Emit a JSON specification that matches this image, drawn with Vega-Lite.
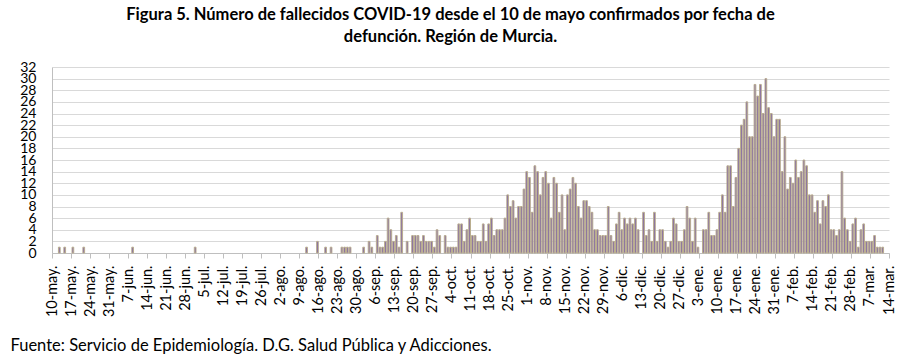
{
  "$schema": "https://vega.github.io/schema/vega-lite/v6.json",
  "width": 837,
  "height": 186,
  "autosize": {"type": "none"},
  "padding": {"left": 52, "top": 67, "right": 11, "bottom": 110},
  "background": "white",
  "title": {
    "text": ["Figura 5. Número de fallecidos COVID-19 desde el 10 de mayo confirmados por fecha de", "defunción. Región de Murcia."],
    "anchor": "middle",
    "frame": "group",
    "dx": -20,
    "offset": 15,
    "font": "Lato",
    "fontSize": 16.5,
    "fontWeight": "bold",
    "lineHeight": 22,
    "color": "#000000"
  },
  "config": {
    "view": {"stroke": null},
    "font": "Lato"
  },
  "data": {
    "values": [
      {"fecha": "2020-05-12", "n": 1}, {"fecha": "2020-05-14", "n": 1}, {"fecha": "2020-05-17", "n": 1}, {"fecha": "2020-05-21", "n": 1},
      {"fecha": "2020-06-08", "n": 1}, {"fecha": "2020-07-01", "n": 1},
      {"fecha": "2020-08-11", "n": 1}, {"fecha": "2020-08-15", "n": 2}, {"fecha": "2020-08-18", "n": 1}, {"fecha": "2020-08-20", "n": 1},
      {"fecha": "2020-08-24", "n": 1}, {"fecha": "2020-08-25", "n": 1}, {"fecha": "2020-08-26", "n": 1}, {"fecha": "2020-08-27", "n": 1},
      {"fecha": "2020-09-01", "n": 1}, {"fecha": "2020-09-03", "n": 2}, {"fecha": "2020-09-04", "n": 1}, {"fecha": "2020-09-06", "n": 3},
      {"fecha": "2020-09-07", "n": 1}, {"fecha": "2020-09-08", "n": 1}, {"fecha": "2020-09-09", "n": 2}, {"fecha": "2020-09-10", "n": 6},
      {"fecha": "2020-09-11", "n": 4}, {"fecha": "2020-09-12", "n": 2}, {"fecha": "2020-09-13", "n": 3}, {"fecha": "2020-09-14", "n": 1},
      {"fecha": "2020-09-15", "n": 7}, {"fecha": "2020-09-17", "n": 2}, {"fecha": "2020-09-19", "n": 3}, {"fecha": "2020-09-20", "n": 3},
      {"fecha": "2020-09-21", "n": 3}, {"fecha": "2020-09-22", "n": 2}, {"fecha": "2020-09-23", "n": 3}, {"fecha": "2020-09-24", "n": 2},
      {"fecha": "2020-09-25", "n": 2}, {"fecha": "2020-09-26", "n": 2}, {"fecha": "2020-09-27", "n": 1}, {"fecha": "2020-09-28", "n": 4},
      {"fecha": "2020-09-29", "n": 3},
      {"fecha": "2020-10-01", "n": 3}, {"fecha": "2020-10-02", "n": 1}, {"fecha": "2020-10-03", "n": 1}, {"fecha": "2020-10-04", "n": 1},
      {"fecha": "2020-10-05", "n": 1}, {"fecha": "2020-10-06", "n": 5}, {"fecha": "2020-10-07", "n": 5}, {"fecha": "2020-10-08", "n": 2},
      {"fecha": "2020-10-09", "n": 4}, {"fecha": "2020-10-10", "n": 6}, {"fecha": "2020-10-11", "n": 3}, {"fecha": "2020-10-12", "n": 3},
      {"fecha": "2020-10-13", "n": 2}, {"fecha": "2020-10-14", "n": 2}, {"fecha": "2020-10-15", "n": 5}, {"fecha": "2020-10-16", "n": 2},
      {"fecha": "2020-10-17", "n": 5}, {"fecha": "2020-10-18", "n": 6}, {"fecha": "2020-10-19", "n": 3}, {"fecha": "2020-10-20", "n": 4},
      {"fecha": "2020-10-21", "n": 4}, {"fecha": "2020-10-22", "n": 4}, {"fecha": "2020-10-23", "n": 6}, {"fecha": "2020-10-24", "n": 10},
      {"fecha": "2020-10-25", "n": 8}, {"fecha": "2020-10-26", "n": 9}, {"fecha": "2020-10-27", "n": 6}, {"fecha": "2020-10-28", "n": 8},
      {"fecha": "2020-10-29", "n": 8}, {"fecha": "2020-10-30", "n": 11}, {"fecha": "2020-10-31", "n": 14},
      {"fecha": "2020-11-01", "n": 13}, {"fecha": "2020-11-02", "n": 7}, {"fecha": "2020-11-03", "n": 15}, {"fecha": "2020-11-04", "n": 14},
      {"fecha": "2020-11-05", "n": 10}, {"fecha": "2020-11-06", "n": 13}, {"fecha": "2020-11-07", "n": 14}, {"fecha": "2020-11-08", "n": 12},
      {"fecha": "2020-11-09", "n": 6}, {"fecha": "2020-11-10", "n": 13}, {"fecha": "2020-11-11", "n": 12}, {"fecha": "2020-11-12", "n": 7},
      {"fecha": "2020-11-13", "n": 10}, {"fecha": "2020-11-14", "n": 4}, {"fecha": "2020-11-15", "n": 10}, {"fecha": "2020-11-16", "n": 11},
      {"fecha": "2020-11-17", "n": 13}, {"fecha": "2020-11-18", "n": 12}, {"fecha": "2020-11-19", "n": 8}, {"fecha": "2020-11-20", "n": 6},
      {"fecha": "2020-11-21", "n": 9}, {"fecha": "2020-11-22", "n": 9}, {"fecha": "2020-11-23", "n": 8}, {"fecha": "2020-11-24", "n": 7},
      {"fecha": "2020-11-25", "n": 4}, {"fecha": "2020-11-26", "n": 4}, {"fecha": "2020-11-27", "n": 3}, {"fecha": "2020-11-28", "n": 3},
      {"fecha": "2020-11-29", "n": 3}, {"fecha": "2020-11-30", "n": 8},
      {"fecha": "2020-12-01", "n": 3}, {"fecha": "2020-12-02", "n": 2}, {"fecha": "2020-12-03", "n": 5}, {"fecha": "2020-12-04", "n": 7},
      {"fecha": "2020-12-05", "n": 4}, {"fecha": "2020-12-06", "n": 6}, {"fecha": "2020-12-07", "n": 5}, {"fecha": "2020-12-08", "n": 6},
      {"fecha": "2020-12-09", "n": 5}, {"fecha": "2020-12-10", "n": 6}, {"fecha": "2020-12-11", "n": 4}, {"fecha": "2020-12-13", "n": 7},
      {"fecha": "2020-12-14", "n": 3}, {"fecha": "2020-12-15", "n": 4}, {"fecha": "2020-12-16", "n": 2}, {"fecha": "2020-12-17", "n": 7},
      {"fecha": "2020-12-18", "n": 2}, {"fecha": "2020-12-19", "n": 4}, {"fecha": "2020-12-20", "n": 4}, {"fecha": "2020-12-21", "n": 2},
      {"fecha": "2020-12-22", "n": 1}, {"fecha": "2020-12-23", "n": 2}, {"fecha": "2020-12-24", "n": 6}, {"fecha": "2020-12-25", "n": 5},
      {"fecha": "2020-12-26", "n": 2}, {"fecha": "2020-12-27", "n": 2}, {"fecha": "2020-12-28", "n": 4}, {"fecha": "2020-12-29", "n": 8},
      {"fecha": "2020-12-30", "n": 6}, {"fecha": "2020-12-31", "n": 2},
      {"fecha": "2021-01-01", "n": 6}, {"fecha": "2021-01-02", "n": 1}, {"fecha": "2021-01-04", "n": 4}, {"fecha": "2021-01-05", "n": 4},
      {"fecha": "2021-01-06", "n": 7}, {"fecha": "2021-01-07", "n": 3}, {"fecha": "2021-01-08", "n": 3}, {"fecha": "2021-01-09", "n": 4},
      {"fecha": "2021-01-10", "n": 7}, {"fecha": "2021-01-11", "n": 10}, {"fecha": "2021-01-12", "n": 7}, {"fecha": "2021-01-13", "n": 15},
      {"fecha": "2021-01-14", "n": 15}, {"fecha": "2021-01-15", "n": 8}, {"fecha": "2021-01-16", "n": 13}, {"fecha": "2021-01-17", "n": 18},
      {"fecha": "2021-01-18", "n": 22}, {"fecha": "2021-01-19", "n": 23}, {"fecha": "2021-01-20", "n": 26}, {"fecha": "2021-01-21", "n": 20},
      {"fecha": "2021-01-22", "n": 20}, {"fecha": "2021-01-23", "n": 29}, {"fecha": "2021-01-24", "n": 27}, {"fecha": "2021-01-25", "n": 29},
      {"fecha": "2021-01-26", "n": 24}, {"fecha": "2021-01-27", "n": 30}, {"fecha": "2021-01-28", "n": 25}, {"fecha": "2021-01-29", "n": 24},
      {"fecha": "2021-01-30", "n": 20}, {"fecha": "2021-01-31", "n": 23},
      {"fecha": "2021-02-01", "n": 23}, {"fecha": "2021-02-02", "n": 14}, {"fecha": "2021-02-03", "n": 20}, {"fecha": "2021-02-04", "n": 11},
      {"fecha": "2021-02-05", "n": 13}, {"fecha": "2021-02-06", "n": 12}, {"fecha": "2021-02-07", "n": 16}, {"fecha": "2021-02-08", "n": 13},
      {"fecha": "2021-02-09", "n": 14}, {"fecha": "2021-02-10", "n": 16}, {"fecha": "2021-02-11", "n": 15}, {"fecha": "2021-02-12", "n": 10},
      {"fecha": "2021-02-13", "n": 10}, {"fecha": "2021-02-14", "n": 7}, {"fecha": "2021-02-15", "n": 9}, {"fecha": "2021-02-16", "n": 5},
      {"fecha": "2021-02-17", "n": 9}, {"fecha": "2021-02-18", "n": 8}, {"fecha": "2021-02-19", "n": 10}, {"fecha": "2021-02-20", "n": 4},
      {"fecha": "2021-02-21", "n": 4}, {"fecha": "2021-02-22", "n": 3}, {"fecha": "2021-02-23", "n": 4}, {"fecha": "2021-02-24", "n": 14},
      {"fecha": "2021-02-25", "n": 6}, {"fecha": "2021-02-26", "n": 4}, {"fecha": "2021-02-27", "n": 2}, {"fecha": "2021-02-28", "n": 5},
      {"fecha": "2021-03-01", "n": 6}, {"fecha": "2021-03-02", "n": 1}, {"fecha": "2021-03-03", "n": 4}, {"fecha": "2021-03-04", "n": 5},
      {"fecha": "2021-03-05", "n": 2}, {"fecha": "2021-03-06", "n": 2}, {"fecha": "2021-03-07", "n": 2}, {"fecha": "2021-03-08", "n": 3},
      {"fecha": "2021-03-09", "n": 1}, {"fecha": "2021-03-10", "n": 1}, {"fecha": "2021-03-11", "n": 1}
    ]
  },
  "mark": {"type": "bar", "fill": "#7F63A6", "stroke": "#BAAE8F", "strokeWidth": 1},
  "encoding": {
    "x": {
      "field": "fecha",
      "timeUnit": "utcyearmonthdate",
      "type": "temporal",
      "scale": {
        "domain": [{"year": 2020, "month": 5, "date": 10, "utc": true}, {"year": 2021, "month": 3, "date": 14, "utc": true}],
        "nice": false
      },
      "axis": {
        "tickCount": {"interval": "week", "step": 1},
        "labelExpr": "utcdate(datum.value) + '-' + ['ene','feb','mar','abr','may','jun','jul','ago','sep','oct','nov','dic'][utcmonth(datum.value)] + '.'",
        "labelAngle": 270,
        "labelFont": "Lato",
        "labelFontSize": 14.5,
        "labelColor": "#000000",
        "labelPadding": 7,
        "labelOverlap": false,
        "labelFlush": false,
        "labelBound": false,
        "grid": false,
        "domainColor": "#BFBFBF",
        "domainWidth": 1,
        "tickColor": "#BFBFBF",
        "tickSize": 5,
        "title": "Fuente: Servicio de Epidemiología. D.G. Salud Pública y Adicciones.",
        "titleFont": "Lato",
        "titleFontSize": 16.5,
        "titleFontWeight": "normal",
        "titleColor": "#000000",
        "titleAnchor": "start",
        "titleAlign": "left",
        "titleBaseline": "alphabetic",
        "titleX": -42,
        "titleY": 97
      }
    },
    "y": {
      "field": "n",
      "type": "quantitative",
      "scale": {"domain": [0, 32], "nice": false},
      "axis": {
        "values": [0, 2, 4, 6, 8, 10, 12, 14, 16, 18, 20, 22, 24, 26, 28, 30, 32],
        "title": null,
        "labelFont": "Lato",
        "labelFontSize": 14,
        "labelColor": "#000000",
        "labelPadding": 16,
        "labelOverlap": false,
        "ticks": false,
        "domainColor": "#BFBFBF",
        "domainWidth": 1,
        "gridColor": "#D9D9D9",
        "gridWidth": 1.2
      }
    }
  }
}
